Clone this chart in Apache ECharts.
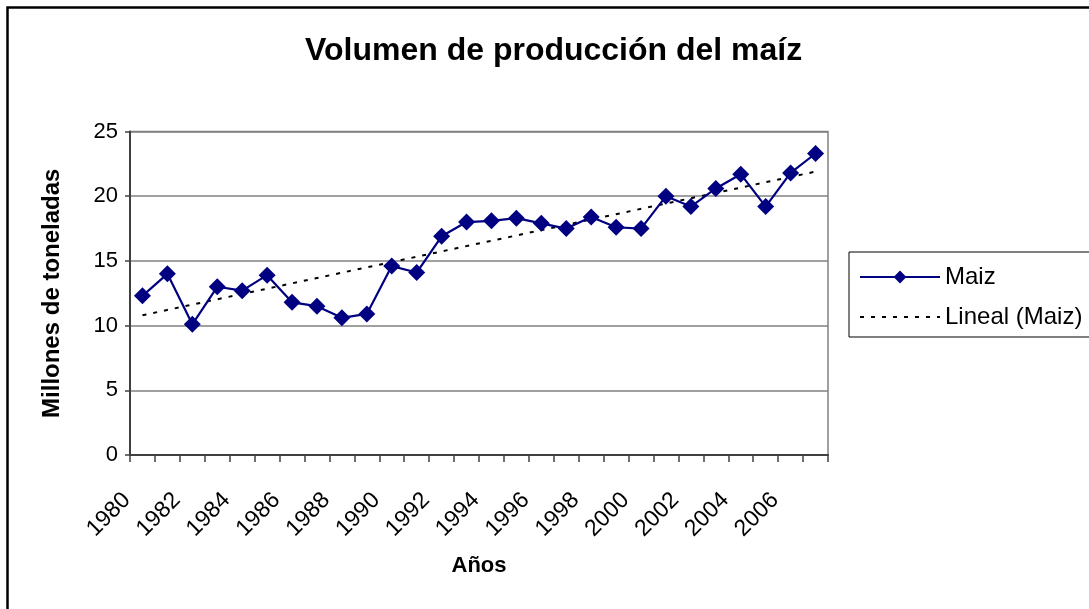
<!DOCTYPE html>
<html>
<head>
<meta charset="utf-8">
<script src="https://cdn.jsdelivr.net/npm/echarts@6/dist/echarts.min.js"></script>
<style>
  html, body { margin: 0; padding: 0; background: #fff; }
  #chart { width: 1089px; height: 609px; }
</style>
</head>
<body>
<div id="chart"></div>
<script>
const years = ["1980", "1981", "1982", "1983", "1984", "1985", "1986", "1987", "1988", "1989",
  "1990", "1991", "1992", "1993", "1994", "1995", "1996", "1997", "1998", "1999",
  "2000", "2001", "2002", "2003", "2004", "2005", "2006", "2007"];
const maiz = [12.3, 14.0, 10.1, 13.0, 12.7, 13.9, 11.8, 11.5, 10.6, 10.9,
  14.6, 14.1, 16.9, 18.0, 18.1, 18.3, 17.9, 17.5, 18.4, 17.6,
  17.5, 20.0, 19.2, 20.6, 21.7, 19.2, 21.8, 23.3];
// trend line ends
const trendEnds = [["1980", 10.8], ["2007", 21.9]];

const font = "Liberation Sans, Arial, sans-serif";
const chart = echarts.init(document.getElementById("chart"));

chart.setOption({
  animation: false,
  backgroundColor: "#fff",
  title: {
    text: "Volumen de producción del maíz",
    left: 300,
    top: 30,
    textStyle: { fontFamily: font, fontSize: 32, fontWeight: "bold", color: "#000" }
  },
  graphic: [{
    type: "rect",
    shape: { x: 7.5, y: 7.5, width: 1300, height: 1300 },
    style: { fill: null, stroke: "#000", lineWidth: 2.5 },
    z: 100
  }],
  legend: {
    orient: "vertical",
    left: 849,
    top: 252,
    padding: [13, 40, 8, 10],
    itemGap: 16,
    itemWidth: 80,
    itemHeight: 16,
    borderColor: "#000",
    borderWidth: 1,
    textStyle: { fontFamily: font, fontSize: 24, color: "#000" },
    data: ["Maiz", { name: "Lineal (Maiz)", itemStyle: { opacity: 0 } }]
  },
  grid: {
    left: 130, right: 261, top: 131.5, bottom: 154,
    show: true, borderColor: "#808080", borderWidth: 1.5
  },
  xAxis: {
    type: "category",
    data: years,
    name: "Años",
    nameLocation: "middle",
    nameGap: 100,
    nameTextStyle: { fontFamily: font, fontSize: 22, fontWeight: "bold", color: "#000" },
    axisLine: { lineStyle: { color: "#404040", width: 2 } },
    axisTick: { show: true, interval: 0, length: 7, lineStyle: { color: "#404040", width: 1.5 } },
    axisLabel: {
      interval: 1, rotate: 45, margin: 26, padding: [0, 22, 0, 0],
      fontFamily: font, fontSize: 23, color: "#000"
    }
  },
  yAxis: {
    type: "value",
    min: 0, max: 25, interval: 5,
    name: "Millones de toneladas",
    nameLocation: "middle",
    nameGap: 66,
    nameTextStyle: { fontFamily: font, fontSize: 24, fontWeight: "bold", color: "#000" },
    axisLine: { show: true, lineStyle: { color: "#404040", width: 2 } },
    axisTick: { show: true, length: 5, lineStyle: { color: "#404040", width: 1.5 } },
    axisLabel: { margin: 12, fontFamily: font, fontSize: 22, color: "#000" },
    splitLine: { lineStyle: { color: "#808080", width: 1.5 } }
  },
  series: [
    {
      name: "Maiz",
      type: "line",
      data: maiz,
      symbol: "diamond",
      symbolSize: 17,
      showAllSymbol: true,
      color: "#000080",
      lineStyle: { color: "#000080", width: 2.2 },
      itemStyle: { color: "#000080" },
      z: 3
    },
    {
      name: "Lineal (Maiz)",
      type: "line",
      data: trendEnds,
      symbol: "none",
      showSymbol: false,
      color: "#000",
      lineStyle: { color: "#000", width: 2, type: [4, 7] },
      z: 2
    }
  ]
});
</script>
</body>
</html>
